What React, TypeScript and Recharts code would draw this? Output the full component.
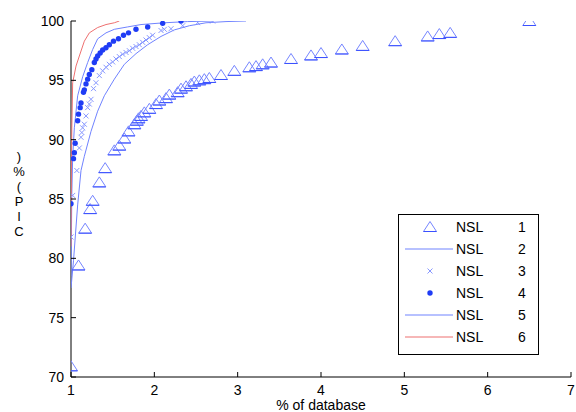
import React from "react";
import { ScatterChart, Scatter, XAxis, YAxis } from "recharts";

// NSL 1 (triangles)
const nsl1X = [1.0, 1.09, 1.17, 1.23, 1.26, 1.34, 1.41, 1.52, 1.58, 1.64, 1.69, 1.76, 1.79, 1.81, 1.84, 1.88, 1.94, 2.02, 2.06, 2.14, 2.18, 2.28, 2.32, 2.38, 2.44, 2.48, 2.54, 2.6, 2.66, 2.8, 2.96, 3.14, 3.22, 3.3, 3.4, 3.64, 3.88, 4.0, 4.25, 4.5, 4.89, 5.28, 5.42, 5.55, 6.5];
const nsl1Y = [70.9, 79.4, 82.5, 84.15, 84.85, 86.4, 87.6, 89.1, 89.5, 90.1, 90.7, 91.3, 91.6, 91.8, 92.0, 92.3, 92.6, 93.0, 93.3, 93.5, 93.8, 94.0, 94.3, 94.5, 94.7, 94.9, 95.0, 95.1, 95.2, 95.45, 95.8, 96.1, 96.2, 96.35, 96.5, 96.8, 97.1, 97.3, 97.6, 97.9, 98.3, 98.7, 98.9, 99.0, 100];

// NSL 2 (outer line)
const nsl2X = [1.0, 1.03, 1.08, 1.12, 1.16, 1.24, 1.32, 1.4, 1.52, 1.64, 1.78, 1.92, 2.08, 2.24, 2.42, 2.62, 2.86, 3.1];
const nsl2Y = [77.5, 79.8, 84.5, 87.4, 88.6, 90.7, 92.4, 93.7, 95.1, 96.35, 97.25, 98.0, 98.7, 99.25, 99.6, 99.85, 99.95, 100];

// NSL 3 (crosses)
const nsl3X = [1.0, 1.02, 1.07, 1.1, 1.12, 1.13, 1.14, 1.16, 1.18, 1.2, 1.22, 1.24, 1.27, 1.3, 1.34, 1.38, 1.42, 1.46, 1.5, 1.54, 1.58, 1.62, 1.66, 1.7, 1.74, 1.78, 1.82, 1.86, 1.9, 1.94, 1.98, 2.08, 2.12, 2.2, 2.34, 2.52, 2.7];
const nsl3Y = [81.8, 85.3, 87.4, 89.3, 90.2, 90.6, 91.0, 91.3, 92.0, 92.7, 93.0, 93.4, 94.3, 94.8, 95.4, 95.8, 96.1, 96.35, 96.55, 96.8, 97.0, 97.2, 97.35, 97.5, 97.7, 97.85, 98.0, 98.2, 98.4, 98.6, 98.8, 99.2, 99.3, 99.35, 99.6, 99.86, 100];

// NSL 4 (dots)
const nsl4X = [1.0, 1.03, 1.04, 1.05, 1.08, 1.09, 1.11, 1.12, 1.15, 1.16, 1.18, 1.2, 1.22, 1.25, 1.28, 1.3, 1.32, 1.35, 1.38, 1.42, 1.46, 1.51, 1.57, 1.63, 1.69, 1.78, 1.92, 2.1, 2.32];
const nsl4Y = [84.6, 88.4, 88.9, 89.7, 91.6, 92.15, 92.7, 93.1, 94.0, 94.2, 94.7, 95.1, 95.5, 95.9, 96.5, 96.8, 97.05, 97.3, 97.55, 97.75, 98.0, 98.3, 98.5, 98.8, 99.0, 99.3, 99.5, 99.8, 100];

// NSL 5 (inner line)
const nsl5X = [1.0, 1.01, 1.02, 1.04, 1.08, 1.14, 1.2, 1.26, 1.32, 1.42, 1.52, 1.68, 1.84, 2.12, 2.4, 2.7];
const nsl5Y = [78.5, 85.5, 88.5, 91.0, 93.7, 95.3, 96.5, 97.6, 98.5, 99.0, 99.3, 99.5, 99.7, 99.85, 99.95, 100];

// NSL 6 (red line)
const nsl6X = [1.0, 1.005, 1.01, 1.02, 1.06, 1.1, 1.16, 1.22, 1.32, 1.42, 1.52, 1.58];
const nsl6Y = [81.0, 87.5, 91.0, 94.8, 96.2, 97.05, 98.3, 99.0, 99.45, 99.7, 99.85, 100];

const xTicks = [1, 2, 3, 4, 5, 6, 7];
const yTicks = [70, 75, 80, 85, 90, 95, 100];
const legendNames = ["NSL   1", "NSL   2", "NSL   3", "NSL   4", "NSL   5", "NSL   6"];
const yLabelChars = [")", "%", "(", "P", "I", "C"];

const zip = (xs: number[], ys: number[]) => xs.map((x, i) => ({ x, y: ys[i] }));

const W = 576;
const H = 412;
const M = { top: 21, right: 5, bottom: 5, left: 0 };
const Y_AXIS_W = 71;
const X_AXIS_H = 30;
const PL = M.left + Y_AXIS_W;
const PR = W - M.right;
const PT = M.top;
const PB = H - M.bottom - X_AXIS_H;

const FONT = "'Liberation Sans', Arial, sans-serif";
const TRI = "#7585ff";
const LINE_BLUE = "#7083ff";
const DOT = "#1f3cf5";
const RED = "#ee7070";

const Triangle = (p: any) => {
  const { cx, cy } = p;
  if (cx == null || cy == null) return <g />;
  return (
    <g>
      <polygon points={`${cx},${cy - 5.5} ${cx - 6.5},${cy + 4.5} ${cx + 6.5},${cy + 4.5}`} fill="none" stroke={TRI} strokeWidth={1} />
      <line x1={cx - 6.5} y1={cy + 4.5} x2={cx + 6.5} y2={cy + 4.5} stroke="#3a50ff" strokeWidth={1} />
    </g>
  );
};

const Cross = (p: any) => {
  const { cx, cy } = p;
  if (cx == null || cy == null) return <g />;
  const s = 2.5;
  return (
    <g stroke="#8898ff" strokeWidth={1}>
      <line x1={cx - s} y1={cy - s} x2={cx + s} y2={cy + s} />
      <line x1={cx - s} y1={cy + s} x2={cx + s} y2={cy - s} />
    </g>
  );
};

const Dot = (p: any) => {
  const { cx, cy } = p;
  if (cx == null || cy == null) return <g />;
  return <circle cx={cx} cy={cy} r={2.7} fill={DOT} />;
};

const NoShape = () => <g />;

const BottomTick = (p: any) => (
  <g>
    <line x1={p.x} y1={PB} x2={p.x} y2={PB - 5} stroke="#000" />
    <text x={p.x} y={PB + 18} textAnchor="middle" fontSize={14} fontFamily={FONT} fill="#000">{p.payload.value}</text>
  </g>
);
const TopTick = (p: any) => <line x1={p.x} y1={PT} x2={p.x} y2={PT + 5} stroke="#000" />;
const LeftTick = (p: any) => (
  <g>
    <line x1={PL} y1={p.y} x2={PL + 5} y2={p.y} stroke="#000" />
    <text x={PL - 7} y={p.y + 5} textAnchor="end" fontSize={14} fontFamily={FONT} fill="#000">{p.payload.value}</text>
  </g>
);
const RightTick = (p: any) => <line x1={PR} y1={p.y} x2={PR - 5} y2={p.y} stroke="#000" />;

const legendSample = (i: number, cx: number, cy: number) => {
  if (i === 0) return <Triangle cx={cx} cy={cy} />;
  if (i === 2) return <Cross cx={cx} cy={cy} />;
  if (i === 3) return <Dot cx={cx} cy={cy} />;
  const c = i === 5 ? RED : LINE_BLUE;
  return <line x1={cx - 25} y1={cy} x2={cx + 23} y2={cy} stroke={c} strokeWidth={1.2} />;
};

export default function App() {
  const series = [
    { data: zip(nsl2X, nsl2Y), line: LINE_BLUE },
    { data: zip(nsl5X, nsl5Y), line: LINE_BLUE },
    { data: zip(nsl6X, nsl6Y), line: RED },
  ];
  return (
    <div style={{ position: "absolute", left: 0, top: 0, width: W, height: H, background: "#fff" }}>
      <ScatterChart width={W} height={H} margin={M}>
        <XAxis xAxisId="b" type="number" dataKey="x" domain={[1, 7]} ticks={xTicks} allowDataOverflow
          height={X_AXIS_H} axisLine={{ stroke: "#000" }} tickLine={false} tick={BottomTick} interval={0} />
        <XAxis xAxisId="t" orientation="top" type="number" dataKey="x" domain={[1, 7]} ticks={xTicks} allowDataOverflow
          height={0} axisLine={{ stroke: "#222" }} tickLine={false} tick={TopTick} interval={0} />
        <YAxis yAxisId="l" type="number" dataKey="y" domain={[70, 100]} ticks={yTicks} allowDataOverflow
          width={Y_AXIS_W} axisLine={{ stroke: "#000" }} tickLine={false} tick={LeftTick} interval={0} />
        <YAxis yAxisId="r" orientation="right" type="number" dataKey="y" domain={[70, 100]} ticks={yTicks} allowDataOverflow
          width={0} axisLine={{ stroke: "#222" }} tickLine={false} tick={RightTick} interval={0} />
        {series.map((s, i) => (
          <Scatter key={i} xAxisId="b" yAxisId="l" data={s.data} shape={NoShape}
            line={{ stroke: s.line, strokeWidth: 1 }} lineType="joint" isAnimationActive={false} />
        ))}
        <Scatter xAxisId="b" yAxisId="l" data={zip(nsl1X, nsl1Y)} shape={Triangle} isAnimationActive={false} />
        <Scatter xAxisId="b" yAxisId="l" data={zip(nsl3X, nsl3Y)} shape={Cross} isAnimationActive={false} />
        <Scatter xAxisId="b" yAxisId="l" data={zip(nsl4X, nsl4Y)} shape={Dot} isAnimationActive={false} />
      </ScatterChart>
      <svg width={W} height={H} style={{ position: "absolute", left: 0, top: 0, pointerEvents: "none" }}>
        {yLabelChars.map((c, i) => (
          <text key={i} x={19} y={161 + i * 15} textAnchor="middle" fontSize={13} fontFamily={FONT} fill="#000">{c}</text>
        ))}
        <text x={(PL + PR) / 2} y={410} textAnchor="middle" fontSize={14} fontFamily={FONT} fill="#000">% of database</text>
        <rect x={398.5} y={214.5} width={140} height={140} fill="#fff" stroke="#000" />
        {legendNames.map((n, i) => {
          const cy = 227 + i * 22;
          const [a, b] = n.split(/\s+/);
          return (
            <g key={i}>
              {legendSample(i, 430, cy)}
              <text x={456} y={cy + 5} fontSize={14} fontFamily={FONT} fill="#000">{a}</text>
              <text x={518} y={cy + 5} fontSize={14} fontFamily={FONT} fill="#000">{b}</text>
            </g>
          );
        })}
      </svg>
    </div>
  );
}
